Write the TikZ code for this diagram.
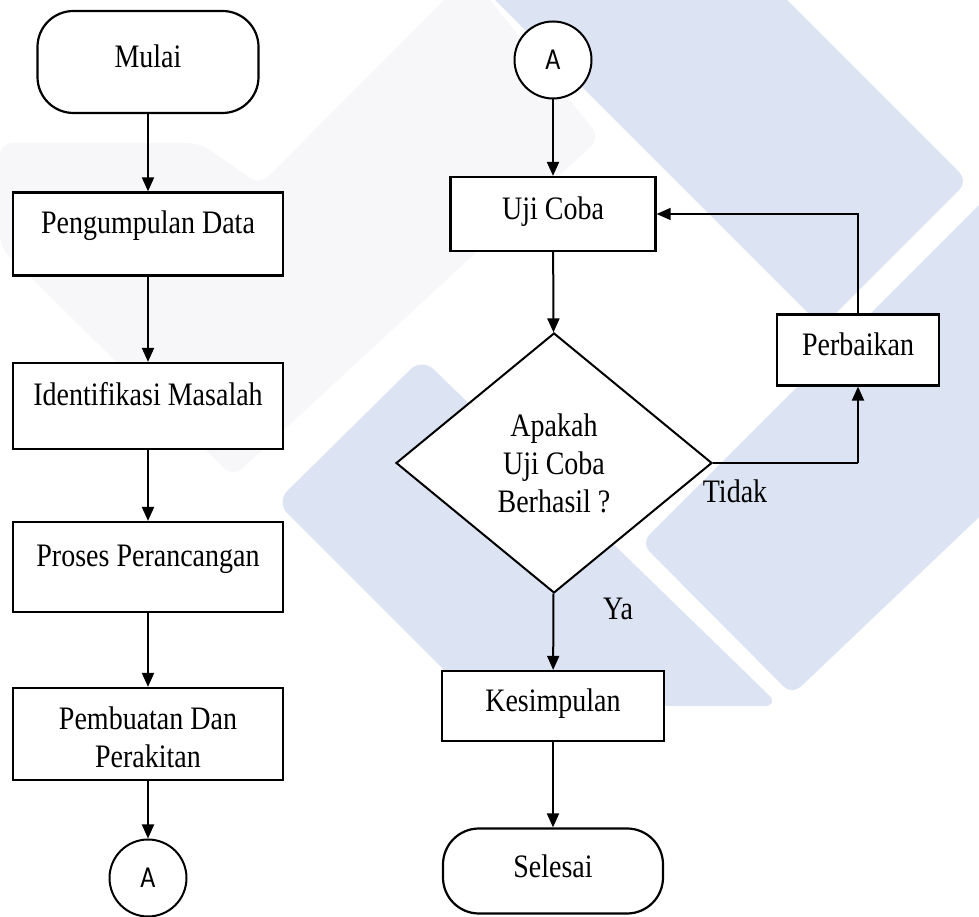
\documentclass[tikz,border=0pt]{standalone}
\usepackage{fontspec}
\usepackage{graphicx}
\setmainfont{Liberation Serif}
\newfontfamily\connfont{Carlito}
\usepackage{tikz}
\usetikzlibrary{arrows.meta,shapes}
\definecolor{wmblue}{RGB}{220,227,242}
\definecolor{wmgray}{RGB}{247,247,250}
\newcommand{\vtxt}[1]{\scalebox{1}[1.17]{#1}}

\begin{document}
\begin{tikzpicture}[>={Triangle[length=14bp,width=12bp]},
    box/.style={draw,line width=2.2bp,fill=white,inner sep=0pt,text height=22bp,text depth=10bp},
    leftbox/.style={box,minimum width=270bp,text depth=22bp},
    term/.style={box,rounded corners=36bp},
    conn/.style={draw,circle,line width=2bp,fill=white,inner sep=0pt,minimum size=77bp,font=\connfont\fontsize{26bp}{30bp}\selectfont},
    flow/.style={->,line width=2bp},
    back/.style={line width=1.3bp}]
      \tikzstyle{every node}=[font=\fontsize{28bp}{38bp}\selectfont]
      \useasboundingbox (0bp,0bp) rectangle (979bp,917bp);

%% watermark
\begin{scope}
  \clip (0bp,0bp) rectangle (979bp,917bp);
  \fill[wmgray,rounded corners=12bp] (0bp,774bp) -- (200bp,774bp) -- (260bp,732bp) -- (457bp,930bp) -- (480bp,930bp) -- (600bp,779bp) -- (233bp,440bp) -- (0bp,670bp) -- cycle;
  \fill[wmblue,rounded corners=12bp] (475bp,937bp) -- (767bp,937bp) -- (968bp,736bp) -- (822bp,590bp) -- cycle;
  \fill[wmblue,rounded corners=12bp] (641bp,374bp) -- (995bp,728bp) -- (995bp,415bp) -- (792bp,222bp) -- cycle;
  \fill[wmblue,rounded corners=16bp] (276bp,415bp) -- (422bp,559bp) -- (780bp,211bp) -- (480bp,211bp) -- cycle;
\end{scope}

%%
  \node (mulai) at (148bp,855bp) [term,minimum width=221bp,minimum height=102bp] {\vtxt{Mulai}};
  \node (data) at (148bp,683bp) [leftbox,minimum height=83bp] {\vtxt{Pengumpulan Data}};
  \node (masalah) at (148bp,511bp) [leftbox,minimum height=86bp] {\vtxt{Identifikasi Masalah}};
  \node (rancang) at (148bp,350bp) [leftbox,minimum height=90bp] {\vtxt{Proses Perancangan}};
  \node (rakit) at (148bp,183bp) [leftbox,minimum height=92bp,align=center,text height=68bp,text depth=0bp] {\vtxt{Pembuatan Dan}\\\vtxt{Perakitan}};
  \node (a1) at (148bp,39bp) [conn] {\vtxt{A}};
  \node (a2) at (553bp,857bp) [conn] {\vtxt{A}};
  \node (uji) at (553bp,703bp) [box,minimum width=205bp,minimum height=74bp] {\vtxt{Uji Coba}};
  \node (cek) at (554bp,454bp) [diamond,draw,line width=2bp,fill=white,inner sep=0pt,minimum width=316bp,minimum height=260bp,align=center] {\vtxt{Apakah}\\\vtxt{Uji Coba}\\\vtxt{Berhasil ?}};
  \node (perbaikan) at (858bp,567bp) [box,minimum width=162bp,minimum height=71bp] {\vtxt{Perbaikan}};
  \node (kesimpulan) at (553bp,211bp) [box,minimum width=222bp,minimum height=70bp] {\vtxt{Kesimpulan}};
  \node (selesai) at (553bp,46bp) [term,minimum width=220bp,minimum height=85bp] {\vtxt{Selesai}};
  \node (tidak) at (735bp,426bp) {\vtxt{Tidak}};
  \node (ya) at (618bp,308bp) {\vtxt{Ya}};
  \coordinate (belok) at (cek.east -| perbaikan.south);
  \draw [flow] (mulai) -- (data);
  \draw [flow] (data) -- (masalah);
  \draw [flow] (masalah) -- (rancang);
  \draw [flow] (rancang) -- (rakit);
  \draw [flow] (rakit) -- (a1);
  \draw [flow] (a2) -- (uji);
  \draw [flow] (uji) -- (cek);
  \draw [flow] (cek) -- (kesimpulan);
  \draw [flow] (kesimpulan) -- (selesai);
  \draw [back] (cek.east) -- (belok);
  \draw [flow] (belok) -- (perbaikan);
  \draw [back,->] (perbaikan.north) |- (uji.east);
%

\end{tikzpicture}
\end{document}
